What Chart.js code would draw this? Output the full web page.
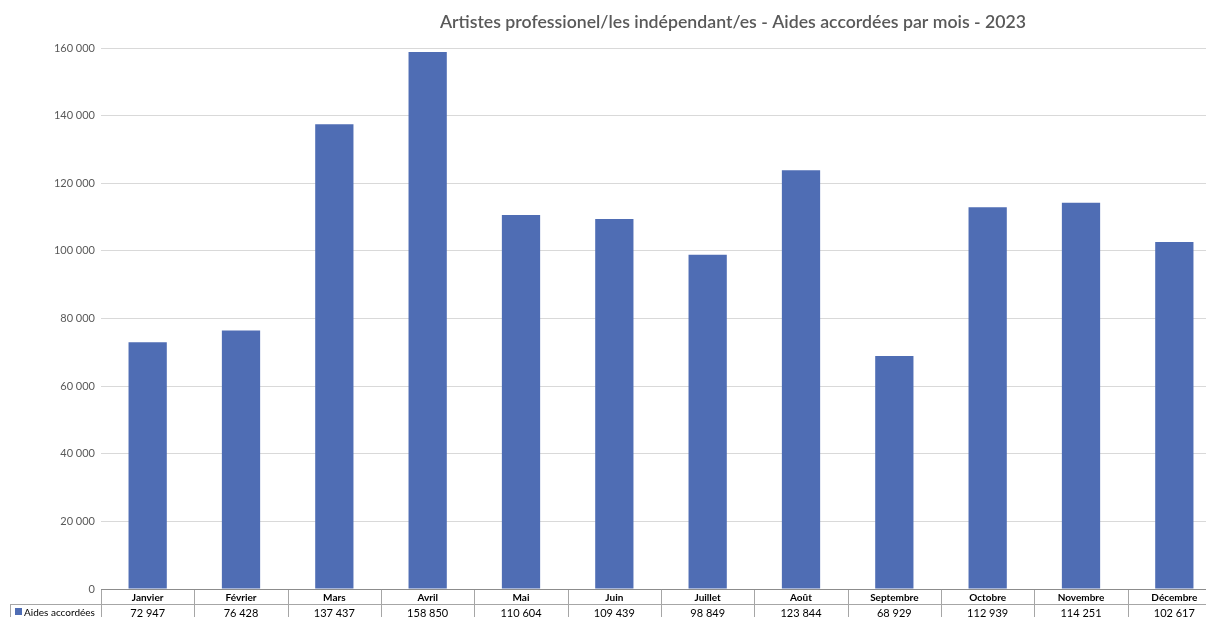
<!DOCTYPE html>
<html lang="fr">
<head>
<meta charset="utf-8">
<title>Aides accordées par mois - 2023</title>
<script src="https://cdn.jsdelivr.net/npm/chart.js@4/dist/chart.umd.min.js"></script>
<style>
  html, body { margin: 0; padding: 0; background: #ffffff; overflow: hidden; }
  #wrap { width: 1206px; height: 617px; overflow: hidden; }
  canvas { display: block; }
</style>
</head>
<body>
<div id="wrap"><canvas id="chart" width="1222" height="617"></canvas></div>
<script>
// Months of 2023 and amounts granted per month
const mois = ['Janvier', 'Février', 'Mars', 'Avril', 'Mai', 'Juin', 'Juillet', 'Août', 'Septembre', 'Octobre', 'Novembre', 'Décembre'];
const aidesAccordees = [72947, 76428, 137437, 158850, 110604, 109439, 98849, 123844, 68929, 112939, 114251, 102617];
const serieLabel = 'Aides accordées';
const titre = 'Artistes professionel/les indépendant/es - Aides accordées par mois - 2023';
const yTicks = [0, 20000, 40000, 60000, 80000, 100000, 120000, 140000, 160000];

const BLEU = '#4f6db4';
const FONT = 'Lato, "Open Sans", sans-serif';

const fmt = v => Math.round(v).toString().replace(/\B(?=(\d{3})+(?!\d))/g, ' ');

// Title plus data table underneath the plot
const tablePlugin = {
  id: 'tableau',
  afterDraw(chart) {
    const ctx = chart.ctx;
    const x = chart.scales.x;
    const area = chart.chartArea;
    const top = area.bottom;
    const rowH = 15;
    const n = mois.length;
    const half = (x.getPixelForValue(1) - x.getPixelForValue(0)) / 2;
    ctx.save();

    // title
    ctx.fillStyle = '#595959';
    ctx.font = '600 17.7px ' + FONT;
    ctx.textAlign = 'center';
    ctx.textBaseline = 'middle';
    ctx.fillText(titre, 733, 22);

    // table grid
    ctx.strokeStyle = '#a6a6a6';
    ctx.lineWidth = 1;
    ctx.beginPath();
    ctx.moveTo(area.left, top + 0.5);
    ctx.lineTo(chart.width, top + 0.5);
    ctx.moveTo(10, top + rowH + 0.5);
    ctx.lineTo(chart.width, top + rowH + 0.5);
    for (let i = 0; i <= n; i++) {
      const px = Math.round(x.getPixelForValue(i) - half) + 0.5;
      ctx.moveTo(px, top);
      ctx.lineTo(px, chart.height);
    }
    ctx.moveTo(10.5, top + rowH);
    ctx.lineTo(10.5, chart.height);
    ctx.stroke();

    // header and values
    ctx.fillStyle = '#000000';
    ctx.textAlign = 'center';
    for (let i = 0; i < n; i++) {
      const cx = x.getPixelForValue(i);
      ctx.font = 'bold 10px ' + FONT;
      ctx.fillText(mois[i], cx, top + rowH / 2 + 1);
      ctx.font = '11px ' + FONT;
      ctx.fillText(fmt(aidesAccordees[i]), cx, top + rowH * 1.5 + 1.5);
    }

    // legend key in the table
    ctx.fillStyle = BLEU;
    ctx.fillRect(15, top + rowH + 4, 7, 7);
    ctx.fillStyle = '#000000';
    ctx.font = '10px ' + FONT;
    ctx.textAlign = 'left';
    ctx.fillText(serieLabel, 24, top + rowH * 1.5 + 1);

    // base line at zero
    ctx.strokeStyle = '#8c8c8c';
    ctx.beginPath();
    ctx.moveTo(area.left, top + 0.5);
    ctx.lineTo(chart.width, top + 0.5);
    ctx.stroke();
    ctx.restore();
  }
};

new Chart(document.getElementById('chart'), {
  type: 'bar',
  data: {
    labels: mois,
    datasets: [{
      label: serieLabel,
      data: aidesAccordees,
      backgroundColor: BLEU,
      categoryPercentage: 1,
      barPercentage: 0.41
    }]
  },
  options: {
    responsive: false,
    animation: false,
    layout: { padding: { top: 48, bottom: 28, right: 1, left: 0 } },
    plugins: {
      legend: { display: false },
      title: { display: false },
      tooltip: { enabled: false }
    },
    scales: {
      x: {
        display: false,
        offset: true
      },
      y: {
        min: 0,
        max: 160000,
        afterBuildTicks(scale) {
          scale.ticks = yTicks.map(v => ({ value: v }));
        },
        afterFit(scale) { scale.width = 101; },
        border: { display: false },
        grid: { color: '#d9d9d9', drawTicks: false, lineWidth: 1 },
        ticks: {
          padding: 6,
          color: '#595959',
          font: { family: FONT, size: 11 },
          callback: v => fmt(v)
        }
      }
    }
  },
  plugins: [tablePlugin]
});
</script>
</body>
</html>
